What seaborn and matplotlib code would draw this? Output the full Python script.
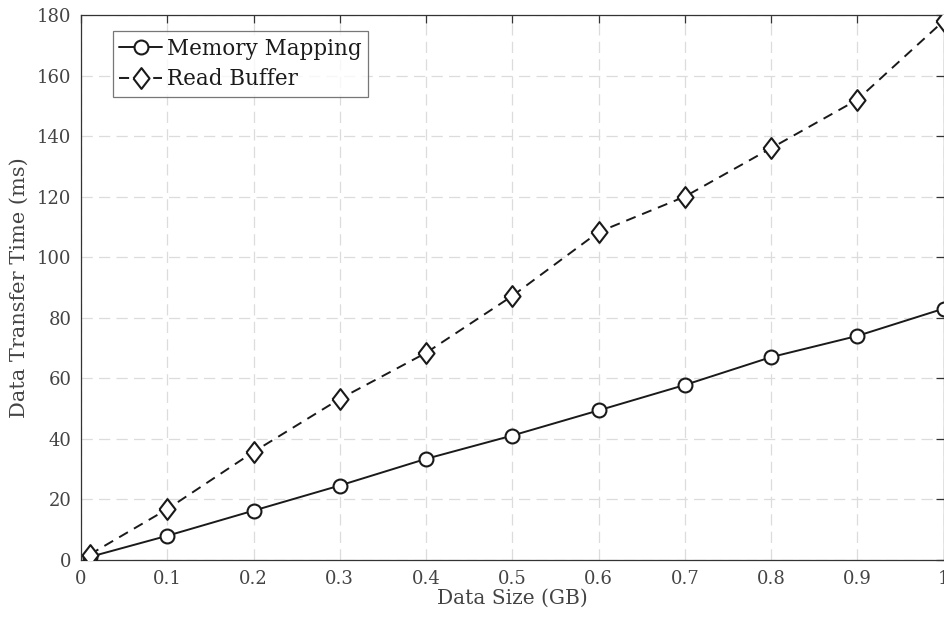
"""Data transfer time: memory mapping vs read buffer."""

import matplotlib

matplotlib.use("Agg")

import matplotlib.pyplot as plt
import pandas as pd
import seaborn as sns

DATA_SIZE_GB = [0.01, 0.1, 0.2, 0.3, 0.4, 0.5, 0.6, 0.7, 0.8, 0.9, 1.0]
MEMORY_MAPPING_MS = [1.0, 8.0, 16.3, 24.6, 33.4, 41.1, 49.4, 57.8, 67.0, 74.0, 83.0]
READ_BUFFER_MS = [1.8, 16.8, 35.7, 53.2, 68.4, 87.2, 108.3, 120.0, 136.0, 152.0, 178.0]

X_TICKS = [0, 0.1, 0.2, 0.3, 0.4, 0.5, 0.6, 0.7, 0.8, 0.9, 1]
X_TICK_LABELS = ["0", "0.1", "0.2", "0.3", "0.4", "0.5", "0.6", "0.7", "0.8", "0.9", "1"]
Y_TICKS = list(range(0, 181, 20))

# MATLAB-style diamond: a bit narrower than tall
DIAMOND = [(-0.85, 0), (0, 1.1), (0.85, 0), (0, -1.1), (-0.85, 0)]

sns.set_style("white")
plt.rcParams["font.family"] = ["DejaVu Serif"]

df = pd.DataFrame({
    "size": DATA_SIZE_GB,
    "mmap": MEMORY_MAPPING_MS,
    "rbuf": READ_BUFFER_MS,
})

fig = plt.figure(figsize=(9.44, 6.19), dpi=100)
ax = fig.add_axes([0.0858, 0.0953, 0.9137, 0.8805])

line_kws = dict(color="#1a1a1a", linewidth=1.4,
                markerfacecolor="white", markeredgecolor="#1a1a1a",
                markeredgewidth=1.5, zorder=3)

sns.lineplot(data=df, x="size", y="mmap", ax=ax, marker="o", markersize=10,
             label="Memory Mapping", **line_kws)
sns.lineplot(data=df, x="size", y="rbuf", ax=ax, marker=DIAMOND, markersize=15,
             label="Read Buffer", **line_kws)
ax.lines[1].set_dashes((5.2, 3.6))

ax.set_xlim(0, 1)
ax.set_ylim(0, 180)
ax.set_xticks(X_TICKS)
ax.set_xticklabels(X_TICK_LABELS)
ax.set_yticks(Y_TICKS)

ax.grid(True, color="#dcdcdc", linestyle=(0, (9, 5)), linewidth=0.9)
ax.set_axisbelow(True)

for spine in ax.spines.values():
    spine.set_visible(True)
    spine.set_color("#333333")
    spine.set_linewidth(0.9)

ax.tick_params(direction="in", length=6, width=0.9, color="#333333",
               labelcolor="#444444", labelsize=13, top=True, right=True,
               pad=7)

ax.set_xlabel("Data Size (GB)", fontsize=14.5, color="#444444", labelpad=1)
ax.set_ylabel("Data Transfer Time (ms)", fontsize=15, color="#444444",
              labelpad=6)

leg = ax.legend(loc="upper left", bbox_to_anchor=(0.037, 0.97),
                fontsize=15.5, frameon=True, fancybox=False,
                handlelength=2.0, handletextpad=0.2, borderpad=0.3,
                labelspacing=0.4, borderaxespad=0)
leg.get_frame().set_edgecolor("#555555")
leg.get_frame().set_linewidth(0.9)
for txt in leg.get_texts():
    txt.set_color("#1a1a1a")

fig.savefig("out.png", dpi=100)
plt.close(fig)
